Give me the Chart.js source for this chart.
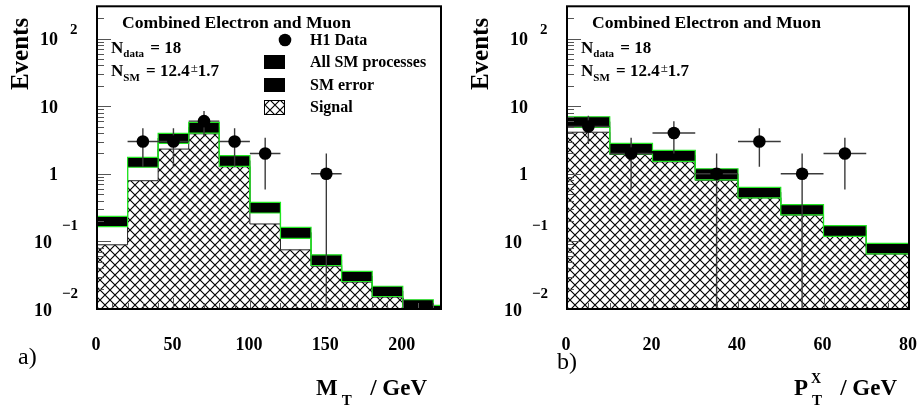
<!DOCTYPE html>
<html>
<head>
<meta charset="utf-8">
<script src="https://cdn.jsdelivr.net/npm/chart.js@4.4.1/dist/chart.umd.min.js"></script>
<style>
  body { margin: 0; background: #fff; }
  #wrap { position: relative; width: 920px; height: 407px; }
  canvas { position: absolute; top: 0; }
  #mt { left: 0; }
  #ptx { left: 460px; }
</style>
</head>
<body>
<div id="wrap">
  <canvas id="mt" width="460" height="407"></canvas>
  <canvas id="ptx" width="460" height="407"></canvas>
</div>
<script>
// panel a) M_T, bins of 20 GeV
const mtEdges = [0, 20, 40, 60, 80, 100, 120, 140, 160, 180, 200, 220, 240];
const mtSm = [0.2, 1.5, 3.38, 4.87, 1.57, 0.32, 0.136, 0.0536, 0.0307, 0.0185, 0.0117, 0.0095];
const mtSmErr = [0.035, 0.25, 0.57, 0.87, 0.28, 0.057, 0.025, 0.0096, 0.0052, 0.0032, 0.002, 0.0018];
const mtSignal = [0.089, 0.79, 2.32, 3.9, 1.27, 0.181, 0.075, 0.043, 0.025, 0.015, 0.0085, 0.007];
const mtDataX = [30, 50, 70, 90, 110, 150];
const mtData = [3, 3, 6, 3, 2, 1];
const mtTicks = [0, 50, 100, 150, 200];

// panel b) P_T^X, bins of 10 GeV
const ptEdges = [0, 10, 20, 30, 40, 50, 60, 70, 80];
const ptSm = [5.91, 2.385, 1.875, 1.0, 0.535, 0.298, 0.145, 0.0795];
const ptSmErr = [1.06, 0.425, 0.345, 0.186, 0.095, 0.052, 0.026, 0.014];
const ptSignal = [4.12, 1.93, 1.5, 0.8, 0.44, 0.245, 0.118, 0.065];
const ptDataX = [5, 15, 25, 35, 45, 55, 65];
const ptData = [5, 2, 4, 1, 3, 1, 2];
const ptTicks = [0, 20, 40, 60, 80];

const yTicks = [0.01, 0.1, 1, 10, 100];

const SERIF = "'Liberation Serif', 'Times New Roman', serif";
const GREEN = "#22e622";

function steps(edges, values) {
  return edges.map((x, i) => ({ x: x, y: values[Math.min(i, values.length - 1)] }));
}

function hatchPattern() {
  const c = document.createElement("canvas");
  c.width = 10;
  c.height = 10;
  const g = c.getContext("2d");
  g.strokeStyle = "#000";
  g.lineWidth = 1.15;
  g.beginPath();
  g.moveTo(-1, -1); g.lineTo(11, 11);
  g.moveTo(11, -1); g.lineTo(-1, 11);
  g.stroke();
  return g.createPattern(c, "repeat");
}

// error bars: sqrt(n) vertical, half bin width horizontal
const errorBars = {
  id: "errorBars",
  beforeDatasetDraw(chart, args, opts) {
    if (args.index !== 0) return;
    const ctx = chart.ctx;
    const { left, right, top, bottom } = chart.chartArea;
    const xs = chart.scales.x, ys = chart.scales.y;
    ctx.save();
    ctx.beginPath();
    ctx.rect(left, top, right - left, bottom - top);
    ctx.clip();
    ctx.strokeStyle = "#3a3a3a";
    ctx.lineWidth = 1.4;
    chart.data.datasets[0].data.forEach((p) => {
      const px = xs.getPixelForValue(p.x);
      const py = ys.getPixelForValue(p.y);
      const e = Math.sqrt(p.y);
      const hi = ys.getPixelForValue(p.y + e);
      const lo = p.y - e > ys.min ? ys.getPixelForValue(p.y - e) : bottom;
      ctx.beginPath();
      ctx.moveTo(px, hi); ctx.lineTo(px, lo);
      ctx.moveTo(xs.getPixelForValue(p.x - opts.halfWidth), py);
      ctx.lineTo(xs.getPixelForValue(p.x + opts.halfWidth), py);
      ctx.stroke();
    });
    ctx.restore();
  },
};

function txt(ctx, s, x, y, font, align) {
  ctx.font = font;
  ctx.textAlign = align || "left";
  ctx.fillText(s, x, y);
  return x + ctx.measureText(s).width;
}

const decor = {
  id: "decor",
  afterDraw(chart, args, o) {
    const ctx = chart.ctx;
    const { left, right, top, bottom } = chart.chartArea;
    const xs = chart.scales.x, ys = chart.scales.y;
    ctx.save();

    // inward ticks
    ctx.strokeStyle = "#555";
    ctx.lineWidth = 1;
    ctx.beginPath();
    for (let e = -2; e <= 2; e++) {
      for (let m = 1; m <= 9; m++) {
        const v = m * Math.pow(10, e);
        if (v > ys.max) break;
        const py = Math.round(ys.getPixelForValue(v)) + 0.5;
        ctx.moveTo(left, py);
        ctx.lineTo(left + (m === 1 ? 14 : 7), py);
      }
    }
    for (let v = 0; v <= xs.max; v += o.minorStep) {
      const px = Math.round(xs.getPixelForValue(v)) + 0.5;
      ctx.moveTo(px, bottom);
      ctx.lineTo(px, bottom - (v % o.majorStep === 0 ? 11 : 6));
    }
    ctx.stroke();

    // frame
    ctx.strokeStyle = "#000";
    ctx.lineWidth = 2;
    ctx.strokeRect(left, top, right - left, bottom - top);

    ctx.fillStyle = "#000";
    ctx.textBaseline = "middle";

    // y tick labels
    yTicks.forEach((v) => {
      const py = ys.getPixelForValue(v) + 2;
      const e = Math.round(Math.log10(v));
      if (e === 0) {
        txt(ctx, "1", left - 39, py, "bold 18px " + SERIF, "right");
      } else if (e === 1) {
        txt(ctx, "10", left - 39, py, "bold 18px " + SERIF, "right");
      } else if (e > 1) {
        txt(ctx, "10", left - 39, py, "bold 18px " + SERIF, "right");
        txt(ctx, String(e), left - 27, py - 10, "bold 15px " + SERIF);
      } else {
        txt(ctx, "10", left - 45, py, "bold 18px " + SERIF, "right");
        txt(ctx, "\u2212" + (-e), left - 35, py - 17, "bold 15px " + SERIF);
      }
    });

    // x tick labels
    o.xTicks.forEach((v) => {
      txt(ctx, String(v), xs.getPixelForValue(v) - 1, 345, "bold 18px " + SERIF, "center");
    });

    // y title
    ctx.save();
    ctx.translate(22, 54);
    ctx.rotate(-Math.PI / 2);
    txt(ctx, "Events", 0, 0, "bold 25px " + SERIF, "center");
    ctx.restore();

    // x title
    ctx.textBaseline = "alphabetic";
    let cx = txt(ctx, o.titleMain, o.titleX, 395, "bold 23px " + SERIF);
    if (o.titleSup) txt(ctx, o.titleSup, cx + 3, 383, "bold 14px " + SERIF);
    txt(ctx, "T", cx + 4, 405, "bold 15px " + SERIF);
    txt(ctx, "/ GeV", o.titleEnd, 395, "bold 23px " + SERIF, "right");

    // panel letter
    ctx.textBaseline = "middle";
    txt(ctx, o.letter, o.letterX, o.letterY, "24px " + SERIF);

    // text block inside the frame
    ctx.textBaseline = "alphabetic";
    txt(ctx, "Combined Electron and Muon", left + 25, 28, "bold 17.6px " + SERIF);
    cx = txt(ctx, "N", left + 14, 53, "bold 17px " + SERIF);
    cx = txt(ctx, "data", cx, 57, "bold 11px " + SERIF);
    txt(ctx, " = 18", cx + 2, 53, "bold 17px " + SERIF);
    cx = txt(ctx, "N", left + 14, 76, "bold 17px " + SERIF);
    cx = txt(ctx, "SM", cx, 81, "bold 11px " + SERIF);
    cx = txt(ctx, " = 12.4", cx + 2, 76, "bold 17px " + SERIF);
    cx = txt(ctx, "\u00b1", cx + 1, 72, "13px " + SERIF);
    txt(ctx, "1.7", cx, 76, "bold 17px " + SERIF);

    if (o.legend) {
      const f = "bold 16px " + SERIF;
      ctx.beginPath();
      ctx.arc(285, 40, 6.3, 0, Math.PI * 2);
      ctx.fill();
      ctx.fillRect(264, 55, 21, 14);
      ctx.fillRect(264, 78, 21, 14);
      ctx.fillStyle = hatchPattern();
      ctx.fillRect(264, 100, 21, 15);
      ctx.fillStyle = "#000";
      ctx.lineWidth = 1;
      ctx.strokeRect(264.5, 100.5, 20, 14);
      ctx.textBaseline = "middle";
      txt(ctx, "H1 Data", 310, 41, f);
      txt(ctx, "All SM processes", 310, 63, f);
      txt(ctx, "SM error", 310, 86, f);
      txt(ctx, "Signal", 310, 108, f);
    }
    ctx.restore();
  },
};

function makeChart(id, edges, sm, smErr, signal, dataX, data, xMax, pad, deco, halfWidth) {
  const hatch = hatchPattern();
  const upper = sm.map((v, i) => v + smErr[i]);
  const lower = sm.map((v, i) => v - smErr[i]);
  return new Chart(document.getElementById(id), {
    type: "line",
    data: {
      datasets: [
        {
          label: "H1 Data",
          data: dataX.map((x, i) => ({ x: x, y: data[i] })),
          showLine: false,
          pointRadius: 6.3,
          pointBackgroundColor: "#000",
          pointBorderColor: "#000",
          pointBorderWidth: 0,
        },
        {
          label: "SM error",
          data: steps(edges, upper),
          stepped: "before",
          fill: "+1",
          backgroundColor: "#000",
          borderColor: GREEN,
          borderWidth: 1.2,
          pointRadius: 0,
        },
        {
          label: "SM error low",
          data: steps(edges, lower),
          stepped: "before",
          fill: false,
          borderColor: GREEN,
          borderWidth: 1.2,
          pointRadius: 0,
        },
        {
          label: "All SM processes",
          data: steps(edges, sm),
          stepped: "before",
          fill: false,
          borderColor: "#000",
          borderWidth: 1,
          pointRadius: 0,
        },
        {
          label: "Signal",
          data: steps(edges, signal),
          stepped: "before",
          fill: "start",
          backgroundColor: hatch,
          borderColor: "#222",
          borderWidth: 1,
          pointRadius: 0,
        },
      ],
    },
    options: {
      responsive: false,
      animation: false,
      events: [],
      layout: { padding: pad },
      scales: {
        x: { type: "linear", min: 0, max: xMax, display: false },
        y: { type: "logarithmic", min: 0.01, max: 300, display: false },
      },
      plugins: {
        legend: { display: false },
        tooltip: { enabled: false },
        filler: { drawTime: "beforeDatasetsDraw" },
        decor: deco,
        errorBars: { halfWidth: halfWidth },
      },
    },
    plugins: [errorBars, decor],
  });
}

makeChart("mt", mtEdges, mtSm, mtSmErr, mtSignal, mtDataX, mtData, 225,
  { left: 97, right: 19, top: 5, bottom: 98 },
  {
    xTicks: mtTicks, minorStep: 10, majorStep: 50,
    titleMain: "M", titleSup: "", titleX: 316, titleEnd: 427,
    letter: "a)", letterX: 18, letterY: 358, legend: true,
  }, 10);

makeChart("ptx", ptEdges, ptSm, ptSmErr, ptSignal, ptDataX, ptData, 80,
  { left: 107, right: 11, top: 5, bottom: 98 },
  {
    xTicks: ptTicks, minorStep: 5, majorStep: 20,
    titleMain: "P", titleSup: "X", titleX: 334, titleEnd: 437,
    letter: "b)", letterX: 97, letterY: 363, legend: false,
  }, 5);
</script>
</body>
</html>
